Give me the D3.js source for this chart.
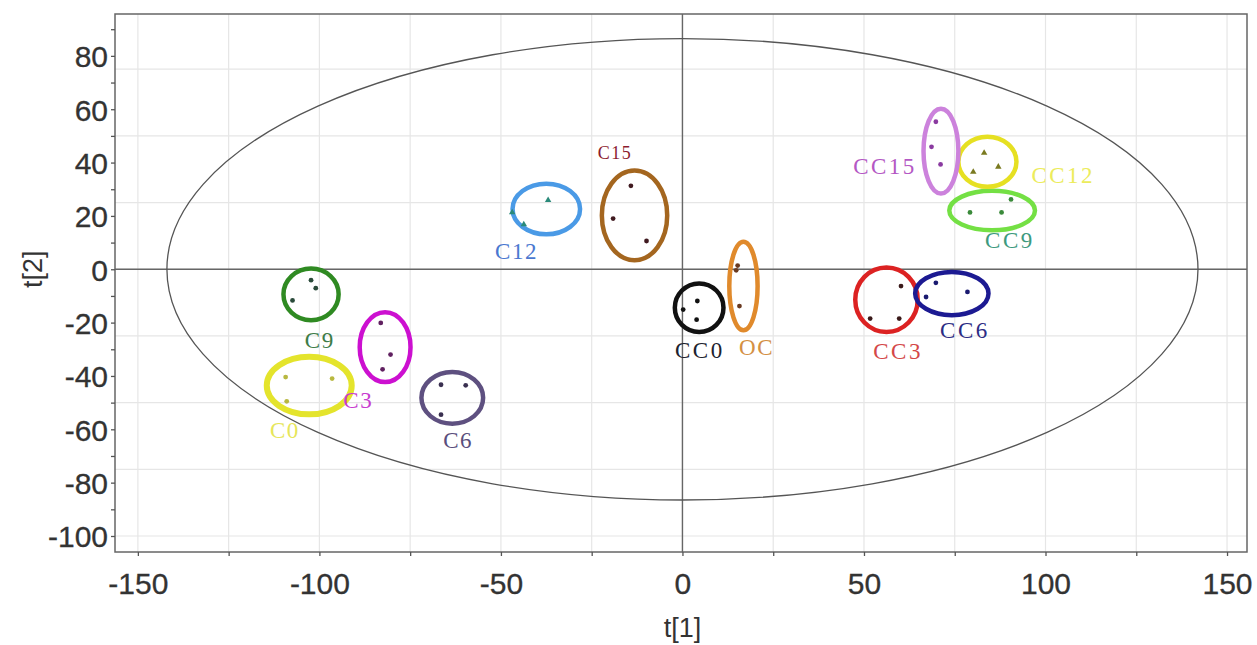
<!DOCTYPE html>
<html><head><meta charset="utf-8">
<script src="https://cdn.jsdelivr.net/npm/d3@7"></script>
<style>body{margin:0;background:#fff}</style>
</head><body><svg id="c" width="1257" height="645"></svg>
<script>
// groups
const groups = ["C0","C3","C6","C9","C12","C15","OC","CC0","CC3","CC6","CC9","CC12","CC15"];
// sample scores: [t1, t2] per group
const scoresT1 = {
  C0:[-109.3,-96.5,-109.0], C3:[-83.1,-80.4,-82.6], C6:[-66.5,-59.7,-66.5],
  C9:[-102.3,-101.0,-107.4], C12:[-37.0,-46.9,-43.7], C15:[-14.2,-19.1,-9.9],
  OC:[15.2,14.8,15.7], CC0:[4.1,0.2,3.9], CC3:[60.2,51.7,59.7],
  CC6:[69.8,78.5,67.1], CC9:[90.5,79.2,87.9], CC12:[83.1,80.1,87.0], CC15:[69.8,68.6,71.1]
};
const scoresT2 = {
  C0:[-40.4,-41.0,-49.5], C3:[-20.1,-32.0,-37.5], C6:[-43.3,-43.5,-54.5],
  C9:[-4.1,-7.1,-11.7], C12:[25.9,21.3,16.8], C15:[31.3,19.0,10.6],
  OC:[1.4,-0.4,-13.8], CC0:[-11.9,-15.1,-18.9], CC3:[-6.3,-18.5,-18.5],
  CC6:[-5.1,-8.5,-10.4], CC9:[26.2,21.3,21.3], CC12:[43.6,36.5,38.4], CC15:[55.3,45.9,39.3]
};
// group ellipse (centre t1, centre t2, half-width t1, half-height t2)
const ringCx = [-102.8,-81.9,-63.4,-102.3,-37.5,-13.2,16.8,4.6,56.2,74.2,85.3,84.0,71.2];
const ringCy = [-43.6,-29.2,-48.2,-9.4,22.6,20.2,-6.3,-14.4,-11.4,-9.1,22.0,40.3,44.3];
const ringRx = [11.7,7.0,8.5,7.6,9.3,9.0,3.9,6.7,8.6,10.1,11.8,8.0,4.8];
const ringRy = [10.8,13.1,9.7,9.7,9.5,16.8,16.6,9.1,12.1,8.1,7.4,9.4,15.9];
// label anchors (t1, t2)
const labelT1 = [-109.5,-89.3,-61.8,-99.9,-45.7,-18.6,20.4,4.8,59.4,77.8,90.2,104.9,55.8];
const labelT2 = [-60.4,-49.2,-64.2,-26.6,6.5,43.5,-29.2,-30.4,-31.0,-22.9,10.9,35.3,38.4];
// Hotelling T2 ellipse half-axes
const hotellingA = 142, hotellingB = 86.5;
// ticks
const xTickLabels = [-150,-100,-50,0,50,100,150];
const yTickLabels = [-100,-80,-60,-40,-20,0,20,40,60,80];

const ringColors = ["#e4e42c","#cc10d0","#5e5080","#2f8a22","#4a9ae6","#a4661f","#e08a2c","#111111","#dc2222","#1c1a92","#74e044","#e6e022","#cc82dc"];
const labelColors = ["#e6e65a","#c83cd0","#5a4e7c","#3e7c48","#4a78d0","#8c1c2e","#d49044","#20222e","#d44848","#2c2c84","#3e9a7e","#ecec5c","#b458c4"];
const pointColors = ["#b8b840","#602060","#3a3050","#2a4a3a","#2a8a7a","#401a20","#6a3a20","#111","#3a1a1a","#1a1a70","#3a8a3a","#7a7a20","#8a3aa0"];
const triGroups = ["C12","CC12"];

const svg = d3.select("#c");
const L=115,R=1247,T=14,B=552;
const x = d3.scaleLinear().domain([-156.3,155.5]).range([L,R]);
const y = d3.scaleLinear().domain([-106,95.7]).range([B,T]);

// grid
const g = svg.append("g");
g.selectAll(".gx").data(d3.range(-150,151,25)).join("line")
  .attr("x1",d=>x(d)).attr("x2",d=>x(d)).attr("y1",T).attr("y2",B)
  .attr("stroke","#e6e6e6").attr("stroke-width",1.2);
g.selectAll(".gy").data(d3.range(-100,91,25)).join("line")
  .attr("y1",d=>y(d)).attr("y2",d=>y(d)).attr("x1",L).attr("x2",R)
  .attr("stroke","#e6e6e6").attr("stroke-width",1.2);

// zero lines
svg.append("line").attr("x1",x(0)).attr("x2",x(0)).attr("y1",T).attr("y2",B).attr("stroke","#666").attr("stroke-width",1.4);
svg.append("line").attr("y1",y(0)).attr("y2",y(0)).attr("x1",L).attr("x2",R).attr("stroke","#666").attr("stroke-width",1.4);

// Hotelling ellipse
svg.append("ellipse").attr("cx",x(0)).attr("cy",y(0))
  .attr("rx",x(hotellingA)-x(0)).attr("ry",y(0)-y(hotellingB))
  .attr("fill","none").attr("stroke","#555").attr("stroke-width",1.3);

// frame
svg.append("rect").attr("x",L).attr("y",T).attr("width",R-L).attr("height",B-T)
  .attr("fill","none").attr("stroke","#666").attr("stroke-width",1.5);

// axes
const xAxis = d3.axisBottom(x).tickValues(d3.range(-150,151,25)).tickSize(4)
  .tickFormat(d=>xTickLabels.includes(d)?d:"");
const xa = svg.append("g").attr("transform",`translate(0,${B})`).call(xAxis);
const yAxis = d3.axisLeft(y).tickValues(d3.range(-100,91,10)).tickSize(4)
  .tickFormat(d=>yTickLabels.includes(d)?d:"");
const ya = svg.append("g").attr("transform",`translate(${L},0)`).call(yAxis);
[xa,ya].forEach(a=>{
  a.select(".domain").remove();
  a.selectAll(".tick line").attr("stroke","#555").attr("stroke-width",1.3);
  a.selectAll("text").attr("font-family","Liberation Sans, Arial, sans-serif")
    .attr("font-size",30).attr("fill","#333").attr("stroke","#333").attr("stroke-width",0.3);
});
xa.selectAll("text").attr("dy",0).attr("y",42);
ya.selectAll("text").attr("x",-7).attr("dy","0.36em");

svg.append("text").attr("x",x(0)).attr("y",637).attr("text-anchor","middle")
  .attr("font-family","Liberation Sans, Arial, sans-serif").attr("font-size",27).attr("fill","#333").text("t[1]");
svg.append("text").attr("transform",`translate(42,${y(0)}) rotate(-90)`).attr("text-anchor","middle")
  .attr("font-family","Liberation Sans, Arial, sans-serif").attr("font-size",27).attr("fill","#333").text("t[2]");

// group rings
svg.append("g").selectAll("ellipse").data(groups).join("ellipse")
  .attr("cx",(d,i)=>x(ringCx[i])).attr("cy",(d,i)=>y(ringCy[i]))
  .attr("rx",(d,i)=>x(ringCx[i]+ringRx[i])-x(ringCx[i]))
  .attr("ry",(d,i)=>y(ringCy[i])-y(ringCy[i]+ringRy[i]))
  .attr("fill","none").attr("stroke",(d,i)=>ringColors[i])
  .attr("stroke-width",(d,i)=>d==="C0"?6:4.5);

// points
const pts = [];
groups.forEach((gname,i)=>scoresT1[gname].forEach((v,j)=>pts.push({g:gname,i,t1:v,t2:scoresT2[gname][j]})));
const sym = d3.symbol().size(18);
svg.append("g").selectAll("path").data(pts).join("path")
  .attr("transform",d=>`translate(${x(d.t1)},${y(d.t2)})`)
  .attr("d",d=>sym.type(triGroups.includes(d.g)?d3.symbolTriangle:d3.symbolCircle)())
  .attr("fill",d=>pointColors[d.i]);

// labels
svg.append("g").selectAll("text").data(groups).join("text")
  .attr("x",(d,i)=>x(labelT1[i])).attr("y",(d,i)=>y(labelT2[i]))
  .attr("text-anchor","middle").attr("dominant-baseline","central")
  .attr("font-family","Liberation Serif, Times New Roman, serif")
  .attr("font-size",d=>d==="C15"?18:23)
  .attr("letter-spacing",d=>d.startsWith("CC")?2.5:1.5)
  .attr("fill",(d,i)=>labelColors[i]).text(d=>d);
</script></body></html>
